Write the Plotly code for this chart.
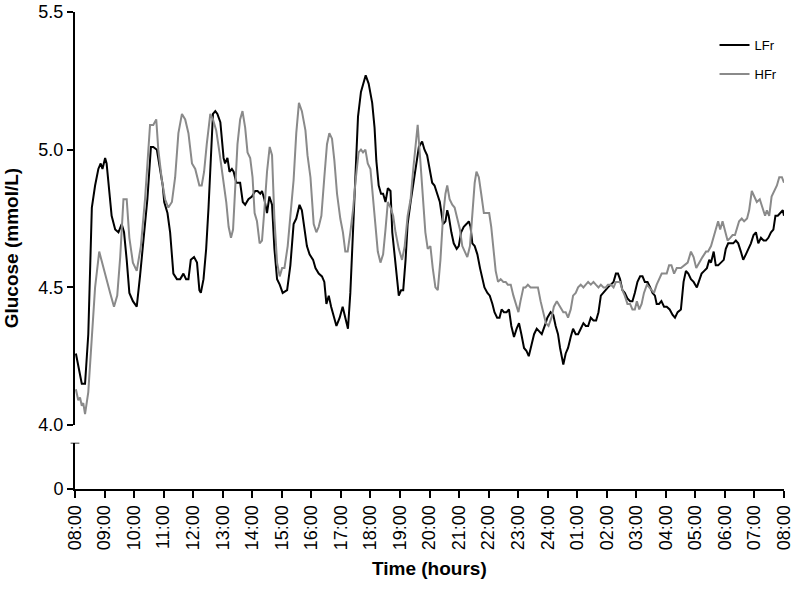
import plotly.graph_objects as go

# ---- data (hours after 08:00, glucose mmol/L) ----
lfr_hours = [
    0.03, 0.11, 0.23, 0.34, 0.45, 0.57, 0.68, 0.79, 0.87, 0.93,
    1.02, 1.07, 1.16, 1.24, 1.36, 1.47, 1.58, 1.66, 1.75, 1.84,
    1.96, 2.09, 2.20, 2.32, 2.45, 2.57, 2.65, 2.77, 2.86, 2.97,
    3.02, 3.13, 3.22, 3.33, 3.45, 3.56, 3.67, 3.76, 3.84, 3.92,
    4.03, 4.13, 4.21, 4.26, 4.35, 4.44, 4.52, 4.60, 4.67, 4.75,
    4.82, 4.92, 4.97, 5.03, 5.08, 5.16, 5.23, 5.31, 5.37, 5.46,
    5.59, 5.68, 5.76, 5.87, 5.99, 6.10, 6.18, 6.27, 6.33, 6.41,
    6.50, 6.58, 6.67, 6.75, 6.84, 6.93, 7.03, 7.18, 7.29, 7.40,
    7.49, 7.60, 7.68, 7.76, 7.85, 7.94, 8.06, 8.14, 8.25, 8.36,
    8.44, 8.51, 8.59, 8.67, 8.76, 8.85, 8.96, 9.06, 9.15, 9.24,
    9.32, 9.41, 9.49, 9.58, 9.68, 9.77, 9.84, 9.94, 10.06, 10.14,
    10.20, 10.28, 10.36, 10.43, 10.51, 10.59, 10.68, 10.74, 10.81, 10.88,
    10.96, 11.04, 11.11, 11.19, 11.26, 11.36, 11.45, 11.56, 11.64, 11.75,
    11.83, 11.92, 12.01, 12.09, 12.17, 12.26, 12.35, 12.46, 12.54, 12.60,
    12.65, 12.74, 12.82, 12.92, 12.99, 13.07, 13.16, 13.25, 13.33, 13.39,
    13.45, 13.53, 13.62, 13.71, 13.79, 13.86, 13.96, 14.04, 14.13, 14.20,
    14.29, 14.37, 14.44, 14.52, 14.61, 14.69, 14.77, 14.86, 14.95, 15.03,
    15.11, 15.20, 15.28, 15.36, 15.45, 15.54, 15.63, 15.71, 15.80, 15.90,
    15.99, 16.10, 16.19, 16.27, 16.35, 16.42, 16.53, 16.61, 16.69, 16.78,
    16.86, 16.95, 17.03, 17.12, 17.21, 17.29, 17.37, 17.46, 17.55, 17.64,
    17.72, 17.80, 17.87, 17.97, 18.04, 18.14, 18.23, 18.31, 18.38, 18.45,
    18.53, 18.61, 18.70, 18.79, 18.87, 18.95, 19.04, 19.13, 19.21, 19.29,
    19.38, 19.47, 19.55, 19.63, 19.69, 19.77, 19.85, 19.94, 20.03, 20.13,
    20.23, 20.31, 20.40, 20.51, 20.60, 20.68, 20.76, 20.85, 20.94, 21.05,
    21.13, 21.21, 21.30, 21.39, 21.47, 21.53, 21.62, 21.69, 21.77, 21.86,
    21.96, 22.03, 22.11, 22.20, 22.28, 22.37, 22.45, 22.54, 22.62, 22.71,
    22.79, 22.88, 22.97, 23.05, 23.13, 23.22, 23.31, 23.39, 23.47, 23.56,
    23.64, 23.71, 23.79, 23.87, 23.96, 24.00,
]
lfr_glucose = [
    4.26, 4.22, 4.15, 4.15, 4.33, 4.79, 4.87, 4.93, 4.95, 4.93,
    4.97, 4.95, 4.85, 4.76, 4.71, 4.70, 4.73, 4.70, 4.60, 4.48,
    4.45, 4.43, 4.54, 4.67, 4.82, 5.01, 5.01, 5.00, 4.94, 4.87,
    4.81, 4.77, 4.70, 4.55, 4.53, 4.53, 4.55, 4.53, 4.53, 4.60,
    4.61, 4.59, 4.49, 4.48, 4.53, 4.64, 4.79, 4.97, 5.13, 5.14,
    5.13, 5.10, 5.03, 4.97, 4.95, 4.97, 4.92, 4.93, 4.92, 4.88,
    4.88, 4.81, 4.80, 4.82, 4.83, 4.85, 4.85, 4.84, 4.85, 4.82,
    4.77, 4.83, 4.80, 4.64, 4.53, 4.51, 4.48, 4.49, 4.58, 4.73,
    4.75, 4.80, 4.78, 4.71, 4.65, 4.62, 4.60, 4.57, 4.55, 4.54,
    4.52, 4.44, 4.47, 4.43, 4.39, 4.36, 4.39, 4.43, 4.39, 4.35,
    4.48, 4.70, 4.92, 5.12, 5.21, 5.25, 5.27, 5.24, 5.17, 5.08,
    4.96, 4.87, 4.84, 4.84, 4.81, 4.86, 4.85, 4.70, 4.62, 4.54,
    4.47, 4.49, 4.49, 4.60, 4.73, 4.81, 4.88, 4.96, 5.01, 5.03,
    5.00, 4.98, 4.93, 4.88, 4.87, 4.84, 4.81, 4.73, 4.74, 4.78,
    4.76, 4.70, 4.66, 4.64, 4.65, 4.70, 4.72, 4.73, 4.74, 4.72,
    4.66, 4.65, 4.62, 4.57, 4.53, 4.50, 4.48, 4.47, 4.44, 4.41,
    4.39, 4.39, 4.42, 4.41, 4.41, 4.42, 4.36, 4.32, 4.35, 4.37,
    4.33, 4.28, 4.27, 4.25, 4.29, 4.33, 4.35, 4.34, 4.33, 4.36,
    4.39, 4.41, 4.40, 4.36, 4.33, 4.28, 4.22, 4.26, 4.28, 4.32,
    4.35, 4.33, 4.33, 4.35, 4.37, 4.36, 4.36, 4.39, 4.38, 4.38,
    4.41, 4.47, 4.48, 4.49, 4.50, 4.51, 4.52, 4.55, 4.55, 4.53,
    4.49, 4.48, 4.46, 4.45, 4.45, 4.48, 4.52, 4.54, 4.54, 4.52,
    4.52, 4.50, 4.48, 4.47, 4.44, 4.44, 4.45, 4.43, 4.43, 4.42,
    4.40, 4.39, 4.41, 4.42, 4.52, 4.56, 4.55, 4.53, 4.52, 4.50,
    4.53, 4.55, 4.56, 4.57, 4.60, 4.59, 4.63, 4.58, 4.58, 4.59,
    4.60, 4.64, 4.66, 4.66, 4.66, 4.67, 4.66, 4.63, 4.60, 4.62,
    4.64, 4.66, 4.69, 4.70, 4.66, 4.68, 4.67, 4.67, 4.68, 4.70,
    4.71, 4.76, 4.76, 4.77, 4.78, 4.76,
]

hfr_hours = [
    0.03, 0.11, 0.17, 0.23, 0.28, 0.34, 0.45, 0.57, 0.68, 0.82,
    0.94, 1.07, 1.19, 1.32, 1.43, 1.53, 1.64, 1.75, 1.84, 1.96,
    2.09, 2.23, 2.37, 2.54, 2.65, 2.75, 2.82, 2.94, 3.05, 3.16,
    3.28, 3.39, 3.50, 3.62, 3.73, 3.84, 3.96, 4.07, 4.21, 4.29,
    4.37, 4.46, 4.58, 4.67, 4.78, 4.89, 5.01, 5.12, 5.20, 5.28,
    5.35, 5.42, 5.50, 5.59, 5.67, 5.76, 5.84, 5.93, 6.01, 6.08,
    6.16, 6.25, 6.33, 6.41, 6.50, 6.59, 6.67, 6.75, 6.84, 6.93,
    7.01, 7.09, 7.20, 7.29, 7.40, 7.49, 7.58, 7.68, 7.80, 7.87,
    7.97, 8.08, 8.17, 8.25, 8.34, 8.44, 8.53, 8.61, 8.70, 8.78,
    8.87, 8.98, 9.07, 9.15, 9.23, 9.32, 9.41, 9.50, 9.60, 9.68,
    9.75, 9.83, 9.91, 10.00, 10.09, 10.17, 10.25, 10.34, 10.43, 10.51,
    10.59, 10.68, 10.77, 10.85, 10.96, 11.07, 11.16, 11.26, 11.36, 11.45,
    11.54, 11.60, 11.69, 11.79, 11.86, 11.94, 12.03, 12.11, 12.20, 12.28,
    12.37, 12.46, 12.54, 12.60, 12.68, 12.77, 12.85, 12.94, 13.03, 13.11,
    13.19, 13.28, 13.37, 13.45, 13.53, 13.59, 13.67, 13.75, 13.84, 13.93,
    14.02, 14.09, 14.16, 14.24, 14.32, 14.41, 14.50, 14.58, 14.65, 14.75,
    14.84, 14.92, 15.01, 15.08, 15.18, 15.25, 15.33, 15.42, 15.52, 15.59,
    15.67, 15.76, 15.85, 15.94, 16.03, 16.13, 16.21, 16.31, 16.42, 16.53,
    16.61, 16.69, 16.78, 16.86, 16.95, 17.03, 17.12, 17.21, 17.29, 17.37,
    17.46, 17.55, 17.63, 17.72, 17.80, 17.89, 17.97, 18.04, 18.14, 18.23,
    18.31, 18.38, 18.45, 18.53, 18.61, 18.70, 18.79, 18.87, 18.95, 19.02,
    19.10, 19.18, 19.26, 19.36, 19.43, 19.52, 19.60, 19.69, 19.77, 19.86,
    19.94, 20.03, 20.11, 20.19, 20.28, 20.37, 20.51, 20.62, 20.74, 20.85,
    20.94, 21.03, 21.13, 21.24, 21.36, 21.43, 21.53, 21.62, 21.69, 21.77,
    21.84, 21.92, 22.00, 22.09, 22.18, 22.26, 22.34, 22.41, 22.48, 22.57,
    22.65, 22.75, 22.82, 22.91, 22.99, 23.08, 23.18, 23.26, 23.36, 23.42,
    23.50, 23.58, 23.67, 23.76, 23.84, 23.93, 24.00,
]
hfr_glucose = [
    4.13, 4.09, 4.10, 4.07, 4.08, 4.04, 4.12, 4.33, 4.50, 4.63,
    4.58, 4.52, 4.48, 4.43, 4.47, 4.61, 4.82, 4.82, 4.68, 4.59,
    4.56, 4.65, 4.82, 5.09, 5.09, 5.11, 5.00, 4.89, 4.82, 4.79,
    4.81, 4.90, 5.06, 5.13, 5.11, 5.06, 4.95, 4.93, 4.87, 4.87,
    4.92, 5.02, 5.13, 5.11, 5.07, 4.99, 4.89, 4.81, 4.72, 4.68,
    4.71, 4.85, 5.02, 5.11, 5.14, 5.08, 4.99, 4.97, 4.90, 4.77,
    4.74, 4.66, 4.67, 4.78, 4.92, 5.01, 4.98, 4.75, 4.59, 4.54,
    4.57, 4.57, 4.65, 4.76, 4.89, 5.06, 5.17, 5.14, 5.07, 4.98,
    4.90, 4.73, 4.70, 4.72, 4.76, 4.90, 5.02, 5.06, 5.04, 4.96,
    4.84, 4.75, 4.70, 4.63, 4.63, 4.70, 4.78, 4.89, 4.99, 5.00,
    4.99, 5.00, 4.95, 4.93, 4.83, 4.72, 4.63, 4.59, 4.62, 4.71,
    4.81, 4.79, 4.76, 4.70, 4.64, 4.60, 4.65, 4.76, 4.82, 4.93,
    5.03, 5.09, 4.96, 4.78, 4.70, 4.64, 4.65, 4.57, 4.50, 4.49,
    4.60, 4.76, 4.84, 4.87, 4.82, 4.80, 4.79, 4.75, 4.71, 4.65,
    4.63, 4.61, 4.65, 4.77, 4.88, 4.92, 4.90, 4.84, 4.77, 4.77,
    4.77, 4.72, 4.65, 4.56, 4.52, 4.53, 4.52, 4.52, 4.51, 4.51,
    4.47, 4.44, 4.41, 4.45, 4.50, 4.50, 4.51, 4.50, 4.50, 4.50,
    4.50, 4.45, 4.41, 4.37, 4.36, 4.39, 4.43, 4.45, 4.43, 4.41,
    4.41, 4.39, 4.42, 4.47, 4.48, 4.50, 4.51, 4.50, 4.51, 4.52,
    4.51, 4.52, 4.51, 4.50, 4.51, 4.50, 4.50, 4.51, 4.51, 4.50,
    4.52, 4.52, 4.52, 4.49, 4.47, 4.44, 4.44, 4.42, 4.42, 4.45,
    4.42, 4.44, 4.48, 4.51, 4.50, 4.49, 4.48, 4.51, 4.53, 4.55,
    4.55, 4.55, 4.58, 4.58, 4.55, 4.57, 4.57, 4.58, 4.59, 4.63,
    4.61, 4.57, 4.59, 4.61, 4.63, 4.63, 4.65, 4.68, 4.71, 4.74,
    4.71, 4.74, 4.71, 4.67, 4.68, 4.69, 4.69, 4.72, 4.74, 4.75,
    4.74, 4.75, 4.78, 4.85, 4.83, 4.81, 4.82, 4.79, 4.76, 4.78,
    4.76, 4.83, 4.85, 4.87, 4.90, 4.90, 4.88,
]

hour_ticks = list(range(0, 25))
hour_labels = ["08:00", "09:00", "10:00", "11:00", "12:00", "13:00", "14:00",
               "15:00", "16:00", "17:00", "18:00", "19:00", "20:00", "21:00",
               "22:00", "23:00", "24:00", "01:00", "02:00", "03:00", "04:00",
               "05:00", "06:00", "07:00", "08:00"]
upper_ticks = [4.0, 4.5, 5.0, 5.5]

FONT = "Arial, Liberation Sans, sans-serif"

fig = go.Figure()
fig.add_trace(go.Scatter(x=lfr_hours, y=lfr_glucose, mode="lines", name="LFr",
                         legendgroup="a", line=dict(color="#000000", width=2)))
fig.add_trace(go.Scatter(x=hfr_hours, y=hfr_glucose, mode="lines", name="HFr",
                         legendgroup="b", line=dict(color="#8a8a8a", width=2)))


def axis_style(ticklen=6):
    return dict(showgrid=False, zeroline=False, showline=True, linecolor="black",
                linewidth=2, ticks="outside", tickcolor="black", tickwidth=1.5,
                ticklen=ticklen, automargin=False,
                tickfont=dict(family=FONT, size=18, color="black"))


fig.update_layout(
    width=796, height=589,
    margin=dict(l=75, r=12, t=12, b=100, autoexpand=False),
    paper_bgcolor="white", plot_bgcolor="white",
    font=dict(family=FONT, color="black"),
    xaxis=dict(range=[0, 24], tickvals=hour_ticks, ticktext=hour_labels,
               tickangle=-90, anchor="y2", **axis_style(7)),
    yaxis=dict(domain=[0.134, 1.0], range=[4.0, 5.5], tickvals=upper_ticks,
               tickformat=".1f", anchor="x", **axis_style()),
    yaxis2=dict(domain=[0.0, 0.097], range=[0, 1], tickvals=[0], ticktext=["0"],
                anchor="x", **axis_style()),
    showlegend=True,
    legend=dict(x=0.902, y=0.962, xanchor="left", yanchor="top",
                font=dict(family=FONT, size=13, color="black"),
                bgcolor="rgba(0,0,0,0)", traceorder="grouped", tracegroupgap=9),
    annotations=[
        dict(text="<b>Glucose (mmol/L)</b>", xref="paper", yref="paper",
             x=-0.09, y=0.505, textangle=-90, showarrow=False,
             font=dict(family=FONT, size=19, color="black"),
             xanchor="center", yanchor="middle"),
        dict(text="<b>Time (hours)</b>", xref="paper", yref="paper",
             x=0.5, y=-0.166, showarrow=False,
             font=dict(family=FONT, size=19, color="black"),
             xanchor="center", yanchor="middle"),
    ],
    shapes=[
        dict(type="line", xref="paper", yref="y2", x0=-0.0062, x1=0.0062, y0=1, y1=1,
             line=dict(color="black", width=1.5)),
    ],
)

# remove the browser's default 8px body margin so the figure sits at the page origin
fig.write_html("out.html", config={"displayModeBar": False},
               post_script="document.body.style.margin='0';document.body.style.overflow='hidden';")
